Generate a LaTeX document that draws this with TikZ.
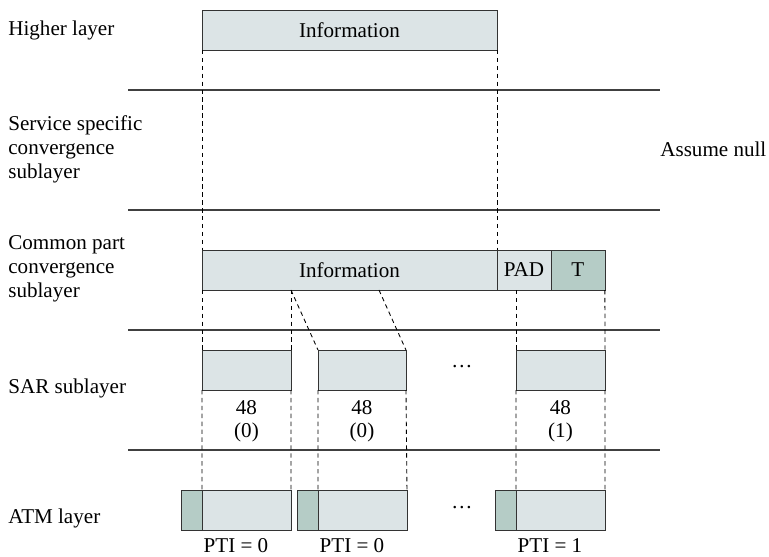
\documentclass[tikz,border=0pt]{standalone}
\usepackage{fontspec}
\setmainfont{Liberation Serif}
\usetikzlibrary{positioning,calc}

\definecolor{cellfill}{RGB}{220,228,230}
\definecolor{hdrfill}{RGB}{181,204,198}

\begin{document}
\begin{tikzpicture}[x=0.02cm,y=-0.02cm,
  every node/.style={font=\fontsize{12}{13.6}\selectfont},
  cell/.style={draw=black!80,fill=cellfill,thin,minimum height=0.8cm,
    inner sep=0pt,outer sep=0pt,anchor=north west},
  hdr/.style={cell,fill=hdrfill},
  layerlabel/.style={anchor=west,align=left,inner sep=0pt},
  boundary/.style={draw=black!75,line width=0.7pt},
  guide/.style={draw=black,dash pattern=on 2.5pt off 2pt,line width=0.5pt}]
  \useasboundingbox (0,0) rectangle (769,556);

  % layer names
  \node[layerlabel] (lhigher) at (8,30) {Higher layer};
  \node[layerlabel] (lsscs) at (8,149) {Service specific\\convergence\\sublayer};
  \node[anchor=west,inner sep=0pt] (null) at (660,149) {Assume null};
  \node[layerlabel] (lcpcs) at (8,269) {Common part\\convergence\\sublayer};
  \node[layerlabel] (lsar) at (8,388) {SAR sublayer};
  \node[layerlabel] (latm) at (8,518) {ATM layer};

  % layer boundaries
  \foreach \y in {90,210,330,450}
    \draw[boundary] (128,\y) -- (660,\y);

  % higher layer
  \node[cell,minimum width=5.9cm] (hinfo) at (202,10) {Information};

  % CPCS
  \node[cell,minimum width=5.9cm] (cinfo) at (202,250) {Information};
  \node[cell,minimum width=1.08cm] (pad) at (cinfo.north east) {PAD};
  \node[hdr,minimum width=1.08cm] (trail) at (pad.north east) {T};

  % SAR
  \node[cell,minimum width=1.78cm] (sar1) at (202,350) {};
  \node[cell,minimum width=1.76cm] (sar2) at (318,350) {};
  \node[cell,minimum width=1.78cm] (sar3) at (516,350) {};
  \node (sdots) at (462,367) {\dots};
  \foreach \s/\b in {sar1/0,sar2/0,sar3/1}
    \node[below=6pt of \s,align=center,inner sep=0pt,
      font=\fontsize{12}{12.6}\selectfont] {48\\(\b)};

  % ATM cells
  \node[hdr,minimum width=0.42cm] (h1) at (181,490) {};
  \node[cell,minimum width=1.78cm] (p1) at (h1.north east) {};
  \node[hdr,minimum width=0.42cm] (h2) at (297,490) {};
  \node[cell,minimum width=1.78cm] (p2) at (h2.north east) {};
  \node[hdr,minimum width=0.42cm] (h3) at (495,490) {};
  \node[cell,minimum width=1.78cm] (p3) at (h3.north east) {};
  \node (adots) at (462,508) {\dots};
  \node[inner sep=0pt] (pti1) at ($(h1.south west)!0.5!(p1.south east)+(0,16)$) {PTI = 0};
  \node[inner sep=0pt] (pti2) at ($(h2.south west)!0.5!(p2.south east)+(0,16)$) {PTI = 0};
  \node[inner sep=0pt] (pti3) at ($(h3.south west)!0.5!(p3.south east)+(0,16)$) {PTI = 1};

  % mapping guides
  \draw[guide] (hinfo.south west) -- (cinfo.north west);
  \draw[guide] (hinfo.south east) -- (cinfo.north east);
  \draw[guide] (cinfo.south west) -- (sar1.north west);
  \coordinate (cut1) at (cinfo.south west -| sar1.north east);
  \coordinate (cut2) at ($(cut1)+(88,0)$);
  \coordinate (padcut) at (cinfo.south east -| sar3.north west);
  \draw[guide] (cut1) -- (sar1.north east);
  \draw[guide] (cut1) -- (sar2.north west);
  \draw[guide] (cut2) -- (sar2.north east);
  \draw[guide] (padcut) -- (sar3.north west);
  \draw[guide] (trail.south east) -- (sar3.north east);
  \draw[guide] (sar1.south west) -- (p1.north west);
  \draw[guide] (sar1.south east) -- (p1.north east);
  \draw[guide] (sar2.south west) -- (p2.north west);
  \draw[guide] (sar2.south east) -- (p2.north east);
  \draw[guide] (sar3.south west) -- (p3.north west);
  \draw[guide] (sar3.south east) -- (p3.north east);
\end{tikzpicture}
\end{document}
